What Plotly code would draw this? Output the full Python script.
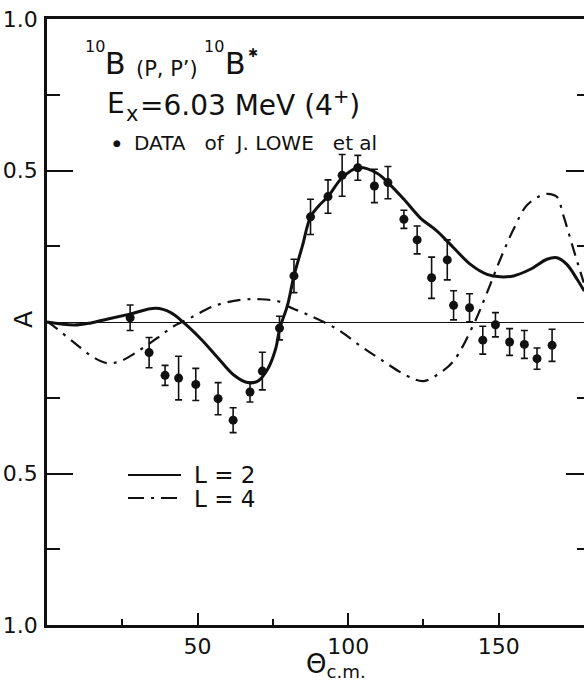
import plotly.graph_objects as go

# ---------------- data ----------------
theta_data = [27.6, 33.9, 39.2, 43.7, 49.4, 56.8, 61.8, 67.4, 71.5, 77.2,
              82.0, 87.5, 93.3, 98.0, 103.2, 108.7, 113.2, 118.5, 122.9, 127.7,
              132.9, 135.0, 140.3, 144.7, 148.9, 153.6, 158.5, 162.7, 167.7]
A_data = [0.014, -0.101, -0.176, -0.185, -0.206, -0.253, -0.324, -0.231, -0.162, -0.020,
          0.152, 0.347, 0.414, 0.484, 0.509, 0.449, 0.460, 0.339, 0.271, 0.146,
          0.205, 0.055, 0.047, -0.060, -0.009, -0.066, -0.074, -0.121, -0.077]
A_err = [0.042, 0.050, 0.033, 0.072, 0.053, 0.053, 0.041, 0.033, 0.062, 0.039,
         0.055, 0.058, 0.055, 0.069, 0.041, 0.055, 0.053, 0.030, 0.046, 0.068,
         0.066, 0.048, 0.046, 0.046, 0.040, 0.044, 0.046, 0.035, 0.053]

theta_L2 = [0, 9.0, 14.6, 20.2, 27.5, 36.1, 41.1, 45.4, 51.1, 56.7, 62.0, 66.6, 70.0,
            73.3, 75.9, 77.3, 79.8, 82.0, 84.8, 87.5, 90.2, 93.3, 98.0, 103.2, 109.6,
            113.2, 118.5, 124.0, 129.5, 135.0, 140.6, 146.1, 150.5, 154.9, 160.5,
            166.0, 169.3, 172.6, 176.0, 178.4]
A_L2 = [0.0, -0.010, -0.003, 0.010, 0.026, 0.045, 0.031, -0.002, -0.056, -0.118, -0.175,
        -0.200, -0.195, -0.155, -0.089, -0.020, 0.053, 0.152, 0.251, 0.347, 0.383, 0.414,
        0.476, 0.509, 0.491, 0.460, 0.405, 0.343, 0.300, 0.245, 0.190, 0.157, 0.149,
        0.152, 0.174, 0.207, 0.212, 0.190, 0.141, 0.102]

theta_L4 = [0, 1.3, 9.0, 15.7, 20.1, 24.5, 31.2, 36.7, 42.2, 47.7, 55.5, 64.3, 71.0,
            77.6, 79.8, 87.5, 96.4, 104.1, 110.7, 119.6, 125.1, 130.6, 135.0, 141.7,
            146.1, 150.5, 154.9, 159.4, 164.9, 167.1, 169.3, 171.5, 174.8, 178.2]
A_L4 = [0.0, -0.007, -0.068, -0.118, -0.136, -0.129, -0.090, -0.052, -0.013, 0.014,
        0.053, 0.073, 0.075, 0.066, 0.053, 0.020, -0.024, -0.079, -0.123, -0.178,
        -0.195, -0.167, -0.129, -0.007, 0.097, 0.207, 0.306, 0.386, 0.421, 0.422,
        0.413, 0.350, 0.240, 0.130]

x_tick_vals = [50, 100, 150]
x_tick_text = ["50", "100", "150"]
x_minor_vals = [25, 75, 125]
y_tick_vals = [-1.0, -0.5, 0.5, 1.0]
y_tick_text = ["1.0", "0.5", "0.5", "1.0"]
y_minor_vals = [-0.75, -0.25, 0.25, 0.75]

# ---------------- layout geometry ----------------
W, H = 584, 688
ML, MR, MT, MB = 47, 0, 19, 63
PW, PH = W - ML - MR, H - MT - MB
FONT = "DejaVu Sans"
INK = "#111111"


def px(x):
    return (x - ML) / PW


def py(y):
    return (H - MB - y) / PH


fig = go.Figure()

fig.add_trace(go.Scatter(x=theta_L4, y=A_L4, mode="lines", line_shape="spline",
                         line=dict(color=INK, width=2.2, dash="13px,7px,3px,7px"),
                         showlegend=False, hoverinfo="skip"))
fig.add_trace(go.Scatter(x=theta_L2, y=A_L2, mode="lines", line_shape="spline",
                         line=dict(color=INK, width=3), showlegend=False, hoverinfo="skip"))
fig.add_trace(go.Scatter(x=theta_data, y=A_data, mode="markers",
                         marker=dict(color=INK, size=9),
                         error_y=dict(type="data", array=A_err, visible=True,
                                      color=INK, thickness=1.6, width=3.5),
                         showlegend=False))
# invisible trace to carry the right-hand tick axis
fig.add_trace(go.Scatter(x=[None], y=[None], yaxis="y2", showlegend=False))

ann = []


def text(s, x, y, size, xanchor="center", yanchor="middle", angle=0):
    ann.append(dict(text=s, x=px(x), y=py(y), xref="paper", yref="paper",
                    xanchor=xanchor, yanchor=yanchor, showarrow=False, textangle=angle,
                    font=dict(family=FONT, size=size, color=INK)))


NB = "\u00a0"
# title block
text("10", 94.5, 46.5, 16)
text("B", 115, 63.5, 30)
text("(P, P’)", 166.5, 69, 21)
text("10", 213.5, 46.5, 16)
text("B", 235, 63.5, 30)
text("✱", 252.5, 53, 12)
text("E", 116, 103, 28)
text("x", 131.5, 113.5, 21)
text("=6.03 MeV (4<sup>+</sup>)", 138, 103, 28, xanchor="left")
text("●", 116.5, 143.5, 9)
text("DATA" + NB * 3 + "of" + NB * 2 + "J." + NB + "LOWE" + NB * 3 + "et" + NB + "al",
     132, 143, 20, xanchor="left")

# legend
text("L = 2", 192, 475, 23, xanchor="left")
text("L = 4", 192, 499, 23, xanchor="left")

# axis texts
text("A", 23, 320, 25, angle=-90)
text("Θ<sub>c.m.</sub>", 304, 665, 26, xanchor="left")

shapes = [
    dict(type="line", xref="paper", yref="paper", x0=px(128), x1=px(181),
         y0=py(475), y1=py(475), line=dict(color=INK, width=2.2)),
    dict(type="line", xref="paper", yref="paper", x0=px(128), x1=px(181),
         y0=py(498), y1=py(498), line=dict(color=INK, width=2.2, dash="16px,7px,3px,7px")),
]

fig.update_layout(
    width=W, height=H, autosize=False,
    margin=dict(l=ML, r=MR, t=MT, b=MB, pad=0),
    paper_bgcolor="white", plot_bgcolor="white",
    annotations=ann, shapes=shapes,
    xaxis=dict(range=[0, 178.3], showline=True, linewidth=2.5, linecolor=INK, mirror=True,
               ticks="inside", ticklen=12, tickwidth=2, tickcolor=INK,
               tickmode="array", tickvals=x_tick_vals, ticktext=x_tick_text,
               tickfont=dict(family=FONT, size=22, color=INK), ticklabelstandoff=0,
               showgrid=False, zeroline=False,
               minor=dict(tickmode="array", tickvals=x_minor_vals, ticks="inside",
                          ticklen=6, tickwidth=2, tickcolor=INK, showgrid=False)),
    yaxis=dict(range=[-1, 1], showline=True, linewidth=2.5, linecolor=INK, mirror=False,
               ticks="inside", ticklen=26, tickwidth=2, tickcolor=INK,
               tickmode="array", tickvals=y_tick_vals, ticktext=y_tick_text,
               tickfont=dict(family=FONT, size=22, color=INK), ticklabelstandoff=2,
               showgrid=False, zeroline=True, zerolinecolor=INK, zerolinewidth=1.4,
               minor=dict(tickmode="array", tickvals=y_minor_vals, ticks="inside",
                          ticklen=13, tickwidth=2, tickcolor=INK, showgrid=False)),
    yaxis2=dict(range=[-1, 1], overlaying="y", side="right", anchor="x", showline=False,
                ticks="inside", ticklen=18, tickwidth=2, tickcolor=INK,
                tickmode="array", tickvals=[-0.5, 0.5], showticklabels=False,
                showgrid=False, zeroline=False,
                minor=dict(tickmode="array", tickvals=y_minor_vals, ticks="inside",
                           ticklen=7, tickwidth=2, tickcolor=INK, showgrid=False)),
)

fig.write_html(
    "out.html",
    config={"displayModeBar": False},
    post_script="document.body.style.margin='0';document.body.style.overflow='hidden';",
)
